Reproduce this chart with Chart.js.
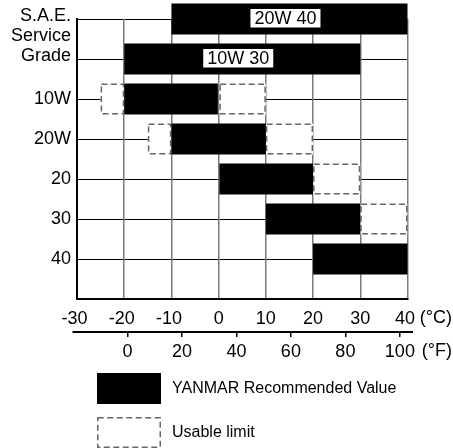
<!DOCTYPE html>
<html>
<head>
<meta charset="utf-8">
<script src="https://cdn.jsdelivr.net/npm/chart.js@4.4.0/dist/chart.umd.min.js"></script>
<style>
  html, body { margin: 0; padding: 0; background: #fff; }
  #wrap { width: 453px; height: 448px; position: relative; }
</style>
</head>
<body>
<div id="wrap"><canvas id="chart"></canvas></div>
<script>
// oil grades, top row first
const gradeNames = ['20W 40', '10W 30', '10W', '20W', '20', '30', '40'];
const recommendedFrom = [-10, -20, -20, -10, 0, 10, 20];
const recommendedTo = [40, 30, 0, 10, 20, 30, 40];
const usableLowFrom = [null, null, -25, -15, null, null, null];
const usableLowTo = [null, null, -20, -10, null, null, null];
const usableHighFrom = [null, null, 0, 10, 20, 30, null];
const usableHighTo = [null, null, 10, 20, 30, 40, null];
const celsiusTicks = [-30, -20, -10, 0, 10, 20, 30, 40];
const fahrenheitTicks = [0, 20, 40, 60, 80, 100];
const fahrenheitMin = -18.5;
const fahrenheitMax = 102.8;
const axisHeader = ['S.A.E.', 'Service', 'Grade'];
const legendNames = ['YANMAR Recommended Value', 'Usable limit'];

const FONT = '"Liberation Sans", Arial, Helvetica, sans-serif';
Chart.defaults.font.family = FONT;
Chart.defaults.color = '#000';

const rowOf = i => gradeNames.length - i;

function bars(from, to) {
  const out = [];
  from.forEach((f, i) => {
    if (f !== null) out.push({ x: [f, to[i]], y: rowOf(i) });
  });
  return out;
}

function dashedRect(ctx, l, t, w, h) {
  ctx.save();
  ctx.strokeStyle = '#666';
  ctx.lineWidth = 1.5;
  ctx.setLineDash([6, 3.5]);
  ctx.strokeRect(l + 0.75, t + 0.75, w - 1.5, h - 1.5);
  ctx.restore();
}

const extras = {
  id: 'extras',
  afterDatasetDraw(chart, args) {
    if (!chart.data.datasets[args.index].dashed) return;
    args.meta.data.forEach(bar => {
      const p = bar.getProps(['x', 'y', 'base', 'height'], true);
      const l = Math.min(p.x, p.base), r = Math.max(p.x, p.base);
      dashedRect(chart.ctx, l, p.y - p.height / 2, r - l, p.height);
    });
  },
  afterDatasetsDraw(chart) {
    const ctx = chart.ctx, xs = chart.scales.x, ys = chart.scales.y;
    ctx.save();
    ctx.font = '18px ' + FONT;
    ctx.textAlign = 'center';
    ctx.textBaseline = 'middle';
    gradeNames.forEach((n, i) => {
      if (!n.includes(' ')) return;
      const cx = xs.getPixelForValue((recommendedFrom[i] + recommendedTo[i]) / 2) - 4;
      const cy = ys.getPixelForValue(rowOf(i)) - 1;
      const w = ctx.measureText(n).width + 8;
      ctx.fillStyle = '#fff';
      ctx.fillRect(cx - w / 2, cy - 9, w, 18.5);
      ctx.fillStyle = '#000';
      ctx.fillText(n, cx, cy + 1);
    });
    ctx.restore();
  },
  afterDraw(chart) {
    const ctx = chart.ctx, xs = chart.scales.x, xf = chart.scales.xF, ys = chart.scales.y;
    const area = chart.chartArea;
    ctx.save();
    // header of the grade axis
    ctx.font = '18px ' + FONT;
    ctx.fillStyle = '#000';
    ctx.textAlign = 'right';
    ctx.textBaseline = 'alphabetic';
    const top = ys.getPixelForValue(7);
    axisHeader.forEach((t, k) => ctx.fillText(t, ys.right - 6, top + 2 + k * 20));
    // unit labels
    ctx.textAlign = 'right';
    ctx.textBaseline = 'middle';
    ctx.fillText('(°C)', 452, xs.top + 19.5);
    ctx.fillText('(°F)', 452, xf.top + 19);
    // fahrenheit axis line
    ctx.strokeStyle = '#000';
    ctx.lineWidth = 2;
    ctx.beginPath();
    ctx.moveTo(xf.left - 4.5, xf.top);
    ctx.lineTo(xf.right + 5.5, xf.top);
    ctx.stroke();
    // legend
    ctx.textAlign = 'left';
    const lx = area.left + 20, ly = area.bottom + 74;
    ctx.fillStyle = '#000';
    ctx.fillRect(lx, ly, 64, 31);
    dashedRect(ctx, lx, ly + 44, 64, 31);
    ctx.font = '16px ' + FONT;
    ctx.fillText(legendNames[0], lx + 75, ly + 15.5);
    ctx.fillText(legendNames[1], lx + 75, ly + 59.5);
    ctx.restore();
  }
};

const barOpts = { borderWidth: 0, borderSkipped: false, grouped: false, barPercentage: 0.775, categoryPercentage: 1 };

new Chart(document.getElementById('chart'), {
  type: 'bar',
  data: {
    datasets: [
      Object.assign({ label: legendNames[0], data: bars(recommendedFrom, recommendedTo), backgroundColor: '#000', clip: false }, barOpts),
      Object.assign({ label: legendNames[1], data: bars(usableLowFrom, usableLowTo), backgroundColor: '#fff', dashed: true }, barOpts),
      Object.assign({ label: legendNames[1], data: bars(usableHighFrom, usableHighTo), backgroundColor: '#fff', dashed: true }, barOpts)
    ]
  },
  options: {
    indexAxis: 'y',
    responsive: true,
    maintainAspectRatio: false,
    animation: false,
    layout: { padding: { top: 19, right: 45.5, bottom: 86, left: 0 } },
    plugins: { legend: { display: false }, tooltip: { enabled: false } },
    scales: {
      y: {
        type: 'linear', min: 0, max: 7, offset: false,
        grid: { color: '#000', lineWidth: 1, drawTicks: false, offset: false },
        border: { color: '#000', width: 2 },
        ticks: {
          stepSize: 1, padding: 6, autoSkip: false, font: { size: 18 },
          callback: v => {
            const n = gradeNames[gradeNames.length - v];
            return n && !n.includes(' ') ? n : '';
          }
        },
        afterFit: s => { s.width = 77; }
      },
      x: {
        type: 'linear', position: 'bottom', weight: 0, min: -30, max: 40,
        afterBuildTicks: s => { s.ticks = celsiusTicks.map(v => ({ value: v })); },
        grid: { color: '#7a7a7a', lineWidth: 1.5, drawTicks: false },
        border: { color: '#000', width: 2 },
        ticks: {
          padding: 9, autoSkip: false, maxRotation: 0, font: { size: 18 },
          // keep the digits centred under the line, the minus sign hangs left;
          // the last one leaves room for the unit
          callback: (v, i, ticks) => (v < 0 || i === ticks.length - 1 ? v + ' ' : String(v))
        },
        afterFit: s => { s.height = 33; }
      },
      xF: {
        type: 'linear', position: 'bottom', weight: 1, min: fahrenheitMin, max: fahrenheitMax,
        afterBuildTicks: s => { s.ticks = fahrenheitTicks.map(v => ({ value: v })); },
        grid: { drawOnChartArea: false, drawTicks: true, tickLength: 5, color: '#000', lineWidth: 1.5 },
        border: { display: false },
        ticks: { padding: 4, autoSkip: false, maxRotation: 0, font: { size: 18 } },
        afterFit: s => { s.height = 30; }
      }
    }
  },
  plugins: [extras]
});
</script>
</body>
</html>
